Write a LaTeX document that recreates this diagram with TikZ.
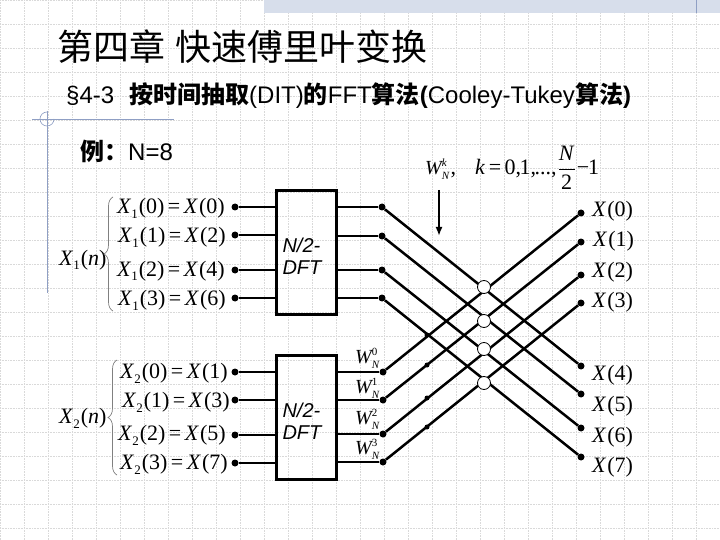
\documentclass[tikz,border=0pt]{standalone}
\usepackage{amsmath}
\usepackage{fontspec}
\setmainfont{Liberation Sans}
\newfontfamily\cjk{Noto Sans CJK SC}
\newfontfamily\formula{Liberation Serif}
\usetikzlibrary{arrows.meta,decorations.pathreplacing}
\newcommand{\sigX}[2]{\textit{X}\raisebox{-5pt}{\fontsize{13}{13}\selectfont #1}\hspace{1pt}(#2)}
\newcommand{\fullX}[1]{\textit{X}\hspace{1pt}(#1)}
\newcommand{\eqsign}{\hspace{3.5pt}=\hspace{3.5pt}}
\newcommand{\twid}[1]{{\fontsize{20}{22}\selectfont\textit{W}}\kern-1.5pt\rlap{\raisebox{8pt}{\fontsize{11}{11}\selectfont #1}}\raisebox{-5pt}{\fontsize{11}{11}\selectfont\textit{N}}}
\definecolor{guide}{HTML}{8F9FC4}
\definecolor{band}{HTML}{D7DEEB}
\begin{document}
\begin{tikzpicture}[
    x=1pt, y=-1pt,
    box/.style={draw, line width=2.8pt, minimum width=60pt, minimum height=124pt, inner sep=0pt, align=left, font=\fontsize{20}{22}\selectfont\itshape, text width=48pt},
    wire/.style={line width=2.5pt},
    arrow/.style={-{Latex[length=9pt,width=7pt]}, line width=2.5pt},
    dot/.style={circle, fill=black, inner sep=0pt, minimum size=7pt},
    tinydot/.style={circle, fill=black, inner sep=0pt, minimum size=5pt},
    ring/.style={circle, draw, fill=white, line width=0.8pt, inner sep=0pt, minimum size=13pt},
    formula/.style={anchor=base west, inner sep=0pt, font=\formula\fontsize{22}{24}\selectfont},
    curly/.style={draw=gray, line width=0.7pt, decorate, decoration={brace, amplitude=9pt}}
]
\useasboundingbox (0,0) rectangle (720,540);
% slide background
\draw[gray!30, densely dotted, line width=0.6pt, xstep=24pt, ystep=24pt] (0,0) grid (720,540);
\fill[band] (264,0) rectangle (720,13);
\draw[guide, line width=0.8pt] (696,0) -- (696,13);
\draw[guide, line width=0.8pt] (32,119) -- (174,119);
\draw[guide, line width=0.8pt] (47,111) -- (47,293);
\draw[guide, line width=0.6pt] (47,112) arc (270:0:7);

% headings
\node[anchor=west, inner sep=0pt, font=\cjk\fontsize{36}{36}\selectfont] (title) at (57,47) {第四章\hspace{10pt}快速傅里叶变换};
\node[anchor=west, inner sep=0pt, font=\fontsize{24}{26}\selectfont] (sect) at (66,96) {§4-3\hspace{15pt}{\cjk\bfseries 按时间抽取}(DIT){\cjk\bfseries 的}FFT{\cjk\bfseries 算法}\textbf{(}Cooley-Tukey{\cjk\bfseries 算法}\textbf{)}};
\node[anchor=west, inner sep=0pt, font=\fontsize{24}{26}\selectfont] (ex) at (80,151) {{\cjk\bfseries 例：}N=8};

% twiddle factor note
\node[formula] (wk) at (425,175) {\twid{\textit{k}}\hspace{1pt},};
\node[formula] (krange) at (475,175) {\textit{k}\eqsign 0,\kern-1.5pt 1,\kern-1.5pt ...,\hspace{1pt}$\dfrac{\hbox{\textit{N}}}{\hbox{2}}$\hspace{1pt}−\kern-1pt 1};
\coordinate (arrowtop) at (439,190);
\coordinate (arrowtip) at (439,236);
\draw[arrow] (arrowtop) -- (arrowtip);

% first half
\node[formula] (x1n) at (59,265) {\sigX{1}{\textit{n}}};
\node[formula] (a0) at (117,214) {\sigX{1}{0}\eqsign\fullX{0}};
\node[formula] (a1) at (118,243) {\sigX{1}{1}\eqsign\fullX{2}};
\node[formula] (a2) at (117,276) {\sigX{1}{2}\eqsign\fullX{4}};
\node[formula] (a3) at (118,305) {\sigX{1}{3}\eqsign\fullX{6}};
\coordinate (bra1) at (113,311);
\coordinate (ket1) at (113,197);
\draw[curly] (bra1) -- (ket1);

% second half
\node[formula] (x2n) at (59,423) {\sigX{2}{\textit{n}}};
\node[formula] (b0) at (120,378) {\sigX{2}{0}\eqsign\fullX{1}};
\node[formula] (b1) at (122,407) {\sigX{2}{1}\eqsign\fullX{3}};
\node[formula] (b2) at (118,440) {\sigX{2}{2}\eqsign\fullX{5}};
\node[formula] (b3) at (120,469) {\sigX{2}{3}\eqsign\fullX{7}};
\coordinate (bra2) at (117,475);
\coordinate (ket2) at (117,360);
\draw[curly] (bra2) -- (ket2);

% DFT blocks
\node[box] (dft1) at (306.5,252.5) {\rule{0pt}{22pt}N/2-\\DFT};
\node[box] (dft2) at (306.5,417.5) {\rule{0pt}{22pt}N/2-\\DFT};

% input dots
\node[dot] (i0) at (235,207) {};
\node[dot] (i1) at (235,235) {};
\node[dot] (i2) at (235,270) {};
\node[dot] (i3) at (235,298) {};
\node[dot] (i4) at (235,372) {};
\node[dot] (i5) at (235,400) {};
\node[dot] (i6) at (235,435) {};
\node[dot] (i7) at (235,463) {};

% dots after the blocks
\node[dot] (m0) at (382,207) {};
\node[dot] (m1) at (382,236) {};
\node[dot] (m2) at (382,270) {};
\node[dot] (m3) at (382,298) {};
\node[dot] (m4) at (383,372) {};
\node[dot] (m5) at (383,400) {};
\node[dot] (m6) at (383,434) {};
\node[dot] (m7) at (383,462) {};

% output dots
\node[dot] (o0) at (581,213) {};
\node[dot] (o1) at (581,242) {};
\node[dot] (o2) at (581,275) {};
\node[dot] (o3) at (581,303) {};
\node[dot] (o4) at (581,366) {};
\node[dot] (o5) at (581,394) {};
\node[dot] (o6) at (581,428) {};
\node[dot] (o7) at (581,457) {};

\draw[wire] (i0) -- (i0 -| dft1.west);
\draw[wire] (i1) -- (i1 -| dft1.west);
\draw[wire] (i2) -- (i2 -| dft1.west);
\draw[wire] (i3) -- (i3 -| dft1.west);
\draw[wire] (i4) -- (i4 -| dft2.west);
\draw[wire] (i5) -- (i5 -| dft2.west);
\draw[wire] (i6) -- (i6 -| dft2.west);
\draw[wire] (i7) -- (i7 -| dft2.west);

\draw[wire] (m0) -- (m0 -| dft1.east);
\draw[wire] (m1) -- (m1 -| dft1.east);
\draw[wire] (m2) -- (m2 -| dft1.east);
\draw[wire] (m3) -- (m3 -| dft1.east);
\draw[wire] (m4) -- (m4 -| dft2.east);
\draw[wire] (m5) -- (m5 -| dft2.east);
\draw[wire] (m6) -- (m6 -| dft2.east);
\draw[wire] (m7) -- (m7 -| dft2.east);

% butterfly
\draw[wire] (m0) -- (o4);
\draw[wire] (m1) -- (o5);
\draw[wire] (m2) -- (o6);
\draw[wire] (m3) -- (o7);
\draw[wire] (m4) -- (o0);
\draw[wire] (m5) -- (o1);
\draw[wire] (m6) -- (o2);
\draw[wire] (m7) -- (o3);

\node[tinydot] (t0) at (427,335) {};
\node[tinydot] (t1) at (427,365) {};
\node[tinydot] (t2) at (427,398) {};
\node[tinydot] (t3) at (427,427) {};

\node[ring] (c0) at (484,287) {};
\node[ring] (c1) at (484,321) {};
\node[ring] (c2) at (484,349) {};
\node[ring] (c3) at (484,383) {};

% twiddle labels
\node[formula] (w0) at (355,363) {\twid{0}};
\node[formula] (w1) at (355,393) {\twid{1}};
\node[formula] (w2) at (355,424) {\twid{2}};
\node[formula] (w3) at (355,454) {\twid{3}};

% output labels
\node[formula] (y0) at (592,216) {\fullX{0}};
\node[formula] (y1) at (593,247) {\fullX{1}};
\node[formula] (y2) at (592,277) {\fullX{2}};
\node[formula] (y3) at (592,307) {\fullX{3}};
\node[formula] (y4) at (592,380) {\fullX{4}};
\node[formula] (y5) at (592,411) {\fullX{5}};
\node[formula] (y6) at (592,442) {\fullX{6}};
\node[formula] (y7) at (592,472) {\fullX{7}};
\end{tikzpicture}
\end{document}
